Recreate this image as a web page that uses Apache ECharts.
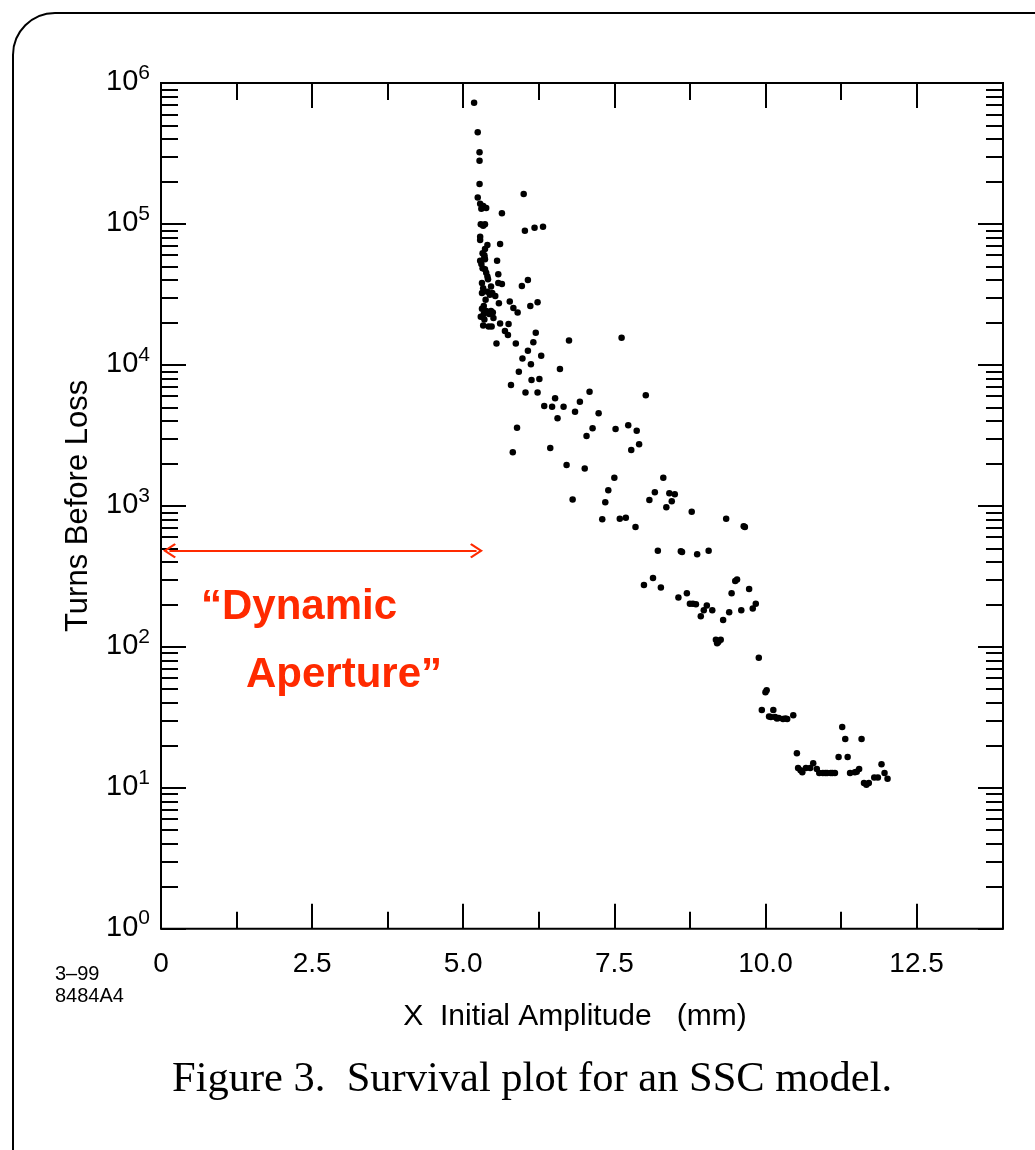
<!DOCTYPE html>
<html>
<head>
<meta charset="utf-8">
<script src="https://cdn.jsdelivr.net/npm/echarts@6/dist/echarts.min.js"></script>
<style>
  html, body { margin: 0; padding: 0; background: #ffffff; }
  #chart { width: 1035px; height: 1150px; }
</style>
</head>
<body>
<div id="chart"></div>
<script>
// Survival plot: turns before loss versus initial x amplitude (SSC tracking)
const amplitudeMm = [
  5.18, 5.24, 5.27, 5.27, 5.27, 5.24, 5.28, 5.33, 5.38, 6.00, 5.64, 5.29, 5.36, 6.02, 6.18, 6.32,
  5.28, 5.28, 5.61, 5.40, 5.36, 5.32, 5.28, 5.36, 5.56, 5.32, 5.36, 5.58, 5.40, 5.31, 5.58, 5.64,
  6.07, 5.97, 5.31, 5.40, 5.48, 5.53, 5.59, 5.77, 5.83, 5.90, 6.11, 6.23, 5.34, 5.38, 5.43, 5.49,
  5.34, 5.46, 5.42, 5.47, 5.61, 5.75, 5.69, 5.74, 6.20, 5.55, 5.87, 6.16, 6.75, 7.62, 6.07, 5.98,
  6.29, 6.12, 5.92, 6.60, 6.13, 6.26, 5.79, 6.03, 6.23, 7.09, 8.02, 6.52, 6.34, 6.47, 6.66, 6.93,
  6.85, 7.24, 6.56, 5.89, 7.14, 7.04, 7.52, 7.73, 7.87, 6.44, 5.82, 7.78, 7.91, 6.71, 7.01, 7.50,
  8.31, 7.40, 8.17, 8.41, 8.50, 7.35, 8.08, 8.45, 8.36, 6.81, 8.78, 7.30, 7.59, 7.69, 7.85, 9.35,
  9.66, 9.64, 8.22, 8.62, 8.60, 8.87, 9.06, 8.14, 7.99, 8.27, 8.56, 8.70, 8.75, 8.80, 8.85, 9.03,
  8.98, 8.93, 9.12, 9.40, 9.30, 9.60, 9.50, 9.53, 9.44, 9.73, 9.79, 9.84, 9.18, 9.22, 9.26, 9.89,
  10.02, 10.00, 9.94, 10.13, 10.09, 10.16, 10.22, 10.29, 10.36, 10.46, 11.27, 11.32, 11.59, 10.52, 11.21, 11.36,
  10.54, 10.61, 10.67, 10.74, 10.79, 10.85, 10.89, 10.95, 11.02, 11.08, 11.15, 11.40, 11.48, 11.55, 11.92, 11.63,
  11.71, 11.80, 11.86, 11.97, 12.02,
  5.30, 5.33, 5.35, 5.30, 5.38, 5.33, 5.44, 5.37, 5.31, 5.50, 5.35, 5.29, 5.33, 5.41, 5.46, 5.35,
  10.06, 10.19, 10.33, 10.58, 10.99, 11.11, 11.51, 11.67, 9.20
];
const turnsBeforeLoss = [
  725000, 447000, 322000, 281000, 192000, 154000, 139000, 134000, 130000, 163000, 119000, 99500, 99500, 89600, 94000, 95700,
  81200, 76900, 72100, 71000, 66400, 61900, 54800, 56100, 54800, 48400, 47700, 43900, 42300, 38100, 38100, 37500,
  40000, 36300, 32400, 33100, 32400, 30800, 27400, 28200, 25300, 23500, 26200, 27800, 26200, 24100, 23000, 23500,
  23000, 24100, 18700, 18700, 19700, 19500, 17400, 16300, 16900, 14200, 14200, 14500, 14900, 15600, 12600, 11100,
  11600, 10100, 8950, 9350, 7820, 7940, 7200, 6370, 6370, 6460, 6090, 5800, 5110, 5050, 5050, 5480,
  4660, 4540, 4180, 3580, 3550, 3130, 3510, 3730, 3410, 2570, 2400, 2490, 2730, 1950, 1840, 1580,
  1580, 1290, 1250, 1230, 1210, 1060, 1100, 1080, 977, 1110, 908, 803, 811, 824, 708, 811,
  708, 716, 481, 471, 476, 453, 481, 308, 274, 263, 224, 240, 202, 202, 200, 196,
  182, 165, 182, 176, 155, 182, 293, 300, 240, 257, 187, 202, 112, 108, 112, 83.7,
  49.1, 47.5, 35.6, 35.6, 31.8, 31.8, 31.3, 30.7, 30.7, 32.7, 27.0, 22.2, 22.2, 17.6, 16.5, 16.5,
  13.8, 12.9, 13.8, 13.8, 14.9, 13.6, 12.7, 12.7, 12.7, 12.7, 12.7, 12.7, 12.9, 13.6, 14.7, 10.8,
  10.8, 11.8, 11.8, 12.7, 11.6,
  128000, 97000, 60000, 52000, 45000, 35000, 31500, 29000, 25000, 21500, 21000, 22000, 19000, 40500, 36000, 58000,
  32, 31, 31, 13.3, 12.7, 12.7, 13.0, 10.5, 106
];

// Axis ticks
const xMajorTicks = [0, 2.5, 5.0, 7.5, 10.0, 12.5];
const xMinorTicks = [1.25, 3.75, 6.25, 8.75, 11.25];
const yDecadeTicks = [1, 10, 100, 1000, 10000, 100000, 1000000];
const yMinorTicks = [];
for (let d = 0; d < 6; d++) {
  for (let m = 2; m <= 9; m++) yMinorTicks.push(m * Math.pow(10, d));
}

// "Dynamic aperture" marker: amplitude range and the turn level it is drawn at
const apertureRangeMm = [0.14, 5.22];
const apertureTurns = 480;

const X_MAX = 13.93;
const ink = '#000000';
const accent = '#ff2a00';
const sans = '"Liberation Sans", Arial, Helvetica, sans-serif';

function xAxisDef(position, ticks, len, withLabels) {
  const axis = {
    type: 'value', position: position, min: 0, max: X_MAX,
    axisLine: { show: false, onZero: false },
    splitLine: { show: false },
    axisTick: { show: true, inside: true, length: len, customValues: ticks,
                lineStyle: { color: ink, width: 2 } },
    axisLabel: { show: false }
  };
  if (withLabels) {
    axis.axisLabel = {
      show: true, customValues: ticks, margin: 22,
      color: ink, fontFamily: sans, fontSize: 28,
      formatter: v => (v === 0 ? '0' : v.toFixed(1))
    };
    axis.name = 'X  Initial Amplitude   (mm)';
    axis.nameLocation = 'middle';
    axis.nameGap = 73;
    axis.nameTextStyle = { color: ink, fontFamily: sans, fontSize: 30, padding: [0, 14, 0, 0] };
  }
  return axis;
}

function yAxisDef(position, ticks, len, withLabels) {
  const axis = {
    type: 'log', logBase: 10, position: position, min: 1, max: 1000000,
    axisLine: { show: false, onZero: false },
    splitLine: { show: false },
    minorTick: { show: false },
    axisTick: { show: true, inside: true, length: len, customValues: ticks,
                lineStyle: { color: ink, width: 2 } },
    axisLabel: { show: false }
  };
  if (withLabels) {
    // power-of-ten labels: base "10" with a raised exponent
    axis.axisLabel = {
      show: true, customValues: ticks, margin: 11,
      padding: [0, 0, 7, 0],
      formatter: v => '{b|10}{s|' + Math.round(Math.log10(v)) + '}',
      rich: {
        b: { fontFamily: sans, fontSize: 29, color: ink, lineHeight: 27, verticalAlign: 'bottom' },
        s: { fontFamily: sans, fontSize: 21, color: ink, lineHeight: 34, verticalAlign: 'top' }
      }
    };
    axis.name = 'Turns Before Loss';
    axis.nameLocation = 'middle';
    axis.nameGap = 67;
    axis.nameTextStyle = { color: ink, fontFamily: sans, fontSize: 31 };
  }
  return axis;
}

const chart = echarts.init(document.getElementById('chart'), null, { renderer: 'canvas' });

chart.setOption({
  animation: false,
  backgroundColor: '#ffffff',
  grid: {
    left: 161, top: 83, right: 32, bottom: 221.3,
    show: true, borderColor: ink, borderWidth: 2, backgroundColor: 'transparent',
    outerBoundsMode: 'none'
  },
  xAxis: [
    xAxisDef('bottom', xMajorTicks, 25, true),
    xAxisDef('bottom', xMinorTicks, 17, false),
    xAxisDef('top', xMajorTicks, 25, false),
    xAxisDef('top', xMinorTicks, 17, false)
  ],
  yAxis: [
    yAxisDef('left', yDecadeTicks, 25, true),
    yAxisDef('left', yMinorTicks, 17, false),
    yAxisDef('right', yDecadeTicks, 25, false),
    yAxisDef('right', yMinorTicks, 17, false)
  ],
  series: [{
    type: 'scatter',
    xAxisIndex: 0, yAxisIndex: 0,
    symbol: 'circle', symbolSize: 6.5,
    itemStyle: { color: ink, opacity: 1 },
    emphasis: { disabled: true },
    silent: true,
    data: amplitudeMm.map((x, i) => [x, turnsBeforeLoss[i]]),
    markLine: {
      silent: true,
      animation: false,
      symbol: ['path://M10,0 L20,15 L18,17 L10,5 L2,17 L0,15 Z', 'path://M10,0 L20,15 L18,17 L10,5 L2,17 L0,15 Z'],
      symbolSize: [15, 13],
      lineStyle: { color: accent, width: 2, type: 'solid', opacity: 1 },
      itemStyle: { color: accent },
      label: { show: false },
      emphasis: { disabled: true },
      data: [[
        { coord: [apertureRangeMm[0], apertureTurns] },
        { coord: [apertureRangeMm[1], apertureTurns] }
      ]]
    }
  }],
  graphic: [
    {
      type: 'rect', silent: true,
      shape: { x: 13, y: 13, width: 1100, height: 1200, r: 42 },
      style: { fill: 'none', stroke: ink, lineWidth: 2 }
    },
    {
      type: 'text', silent: true, left: 201, top: 586,
      style: { text: '\u201CDynamic', fill: accent, font: 'bold 42px ' + sans }
    },
    {
      type: 'text', silent: true, left: 246, top: 654,
      style: { text: 'Aperture\u201D', fill: accent, font: 'bold 42px ' + sans }
    },
    {
      type: 'text', silent: true, left: 55, top: 963,
      style: { text: '3\u201399\n8484A4', fill: ink, font: '20px ' + sans, lineHeight: 22 }
    },
    {
      type: 'text', silent: true, left: 172, top: 1058,
      style: { text: 'Figure 3.  Survival plot for an SSC model.', fill: ink,
               font: '42.5px "Liberation Serif", "DejaVu Serif", serif' }
    }
  ]
});
</script>
</body>
</html>
